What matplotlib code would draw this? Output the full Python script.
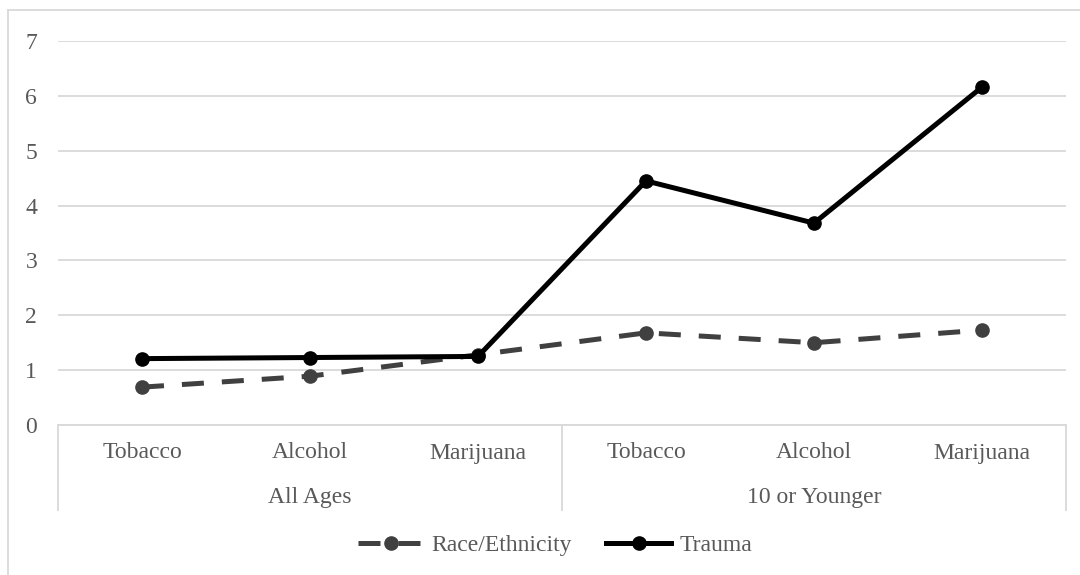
import matplotlib
matplotlib.use("Agg")
import matplotlib.pyplot as plt
from matplotlib.lines import Line2D

plt.rcParams['font.family'] = ['Liberation Serif', 'DejaVu Serif']

substances = ["Tobacco", "Alcohol", "Marijuana", "Tobacco", "Alcohol", "Marijuana"]
age_groups = ["All Ages", "10 or Younger"]
race_ethnicity = [0.69, 0.89, 1.28, 1.68, 1.50, 1.73]
trauma = [1.21, 1.23, 1.25, 4.45, 3.68, 6.16]
y_ticks = [0, 1, 2, 3, 4, 5, 6, 7]

W, H = 1080, 575
fig = plt.figure(figsize=(W / 100, H / 100), dpi=100)

left_px, right_px, top_px, bottom_px = 58, 1066, 41, 425
ax = fig.add_axes([left_px / W, 1 - bottom_px / H,
                   (right_px - left_px) / W, (bottom_px - top_px) / H])

text_color = "#595959"
grid_color = "#d9d9d9"

x = list(range(len(substances)))
race_line, = ax.plot(x, race_ethnicity, color="#404040", lw=3.6, marker="o",
                     markersize=9.5, linestyle=(0, (4.4, 3.6)), dash_capstyle="butt",
                     label="Race/Ethnicity", zorder=3)
trauma_line, = ax.plot(x, trauma, color="black", lw=3.6, marker="o",
                       markersize=9.5, label="Trauma", zorder=4)

ax.set_xlim(-0.5, len(substances) - 0.5)
ax.set_ylim(0, 7)
ax.set_yticks(y_ticks)
ax.set_yticklabels([str(v) for v in y_ticks])
ax.tick_params(axis="y", length=0, pad=15, labelsize=17, labelcolor=text_color)
ax.set_xticks([])
ax.grid(axis="y", color=grid_color, lw=1.3)
ax.set_axisbelow(True)
for side in ("top", "right", "left"):
    ax.spines[side].set_visible(False)
ax.spines["bottom"].set_color(grid_color)
ax.spines["bottom"].set_linewidth(1.3)

# Two-level category axis drawn beneath the plot area
trans = ax.get_xaxis_transform()
plot_h = bottom_px - top_px
sep_bottom = -(510 - bottom_px) / plot_h
for xs in (-0.5, 2.5, 5.5):
    ax.add_line(Line2D([xs, xs], [0, sep_bottom], transform=trans,
                       color=grid_color, lw=1.3, clip_on=False))

cat_y = -(453 - bottom_px) / plot_h
grp_y = -(497 - bottom_px) / plot_h
for xi, name in zip(x, substances):
    ax.text(xi, cat_y, name, transform=trans, ha="center", va="center",
            fontsize=17, color=text_color)
for gi, name in enumerate(age_groups):
    ax.text(gi * 3 + 1, grp_y, name, transform=trans, ha="center", va="center",
            fontsize=17, color=text_color)

# Chart frame
fig.add_artist(Line2D([8 / W, 8 / W], [0, 1 - 10 / H], color=grid_color, lw=1.3))
fig.add_artist(Line2D([8 / W, 1], [1 - 10 / H, 1 - 10 / H], color=grid_color, lw=1.3))

leg = fig.legend(handles=[race_line, trauma_line], loc="center",
                 bbox_to_anchor=(0.514, 1 - 545 / H), ncol=2, frameon=False,
                 fontsize=17, handlelength=2.75, handletextpad=0.35,
                 columnspacing=1.45, labelcolor=text_color)

fig.savefig("out.png", dpi=100)
